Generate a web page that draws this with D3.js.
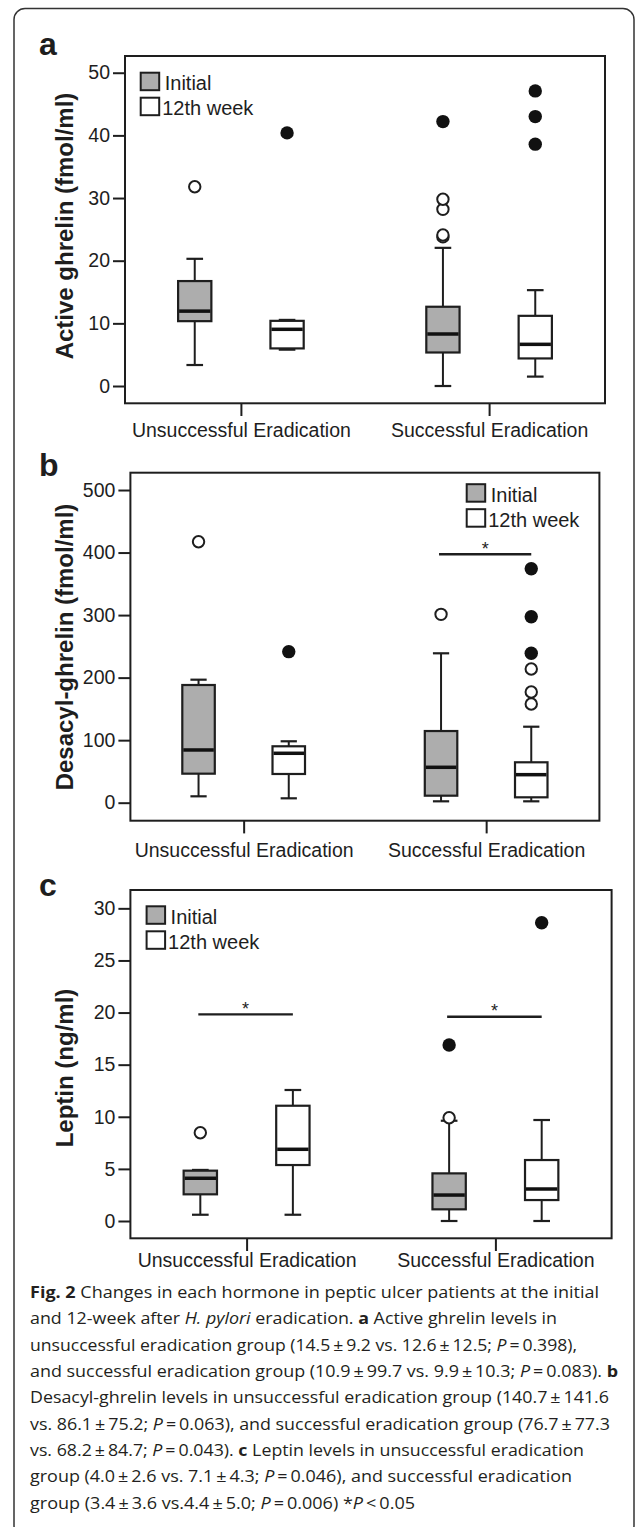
<!DOCTYPE html>
<html>
<head>
<meta charset="utf-8">
<script src="https://cdn.jsdelivr.net/npm/d3@7"></script>
<style>
  body { margin: 0; background: #fff; }
  svg { display: block; }
</style>
</head>
<body>
<svg id="fig" width="635" height="1527"></svg>
<script>
const groups = ['Unsuccessful Eradication', 'Successful Eradication'];
const series = ['Initial', '12th week'];

// box stats per group x series: [low whisker, q1, median, q3, high whisker]
const ghrelinBoxes = [[3.35, 10.35, 11.95, 16.75, 20.3], [5.8, 6.0, 9.05, 10.4, 10.55],
                      [0, 5.35, 8.3, 12.65, 22.05], [1.5, 4.4, 6.65, 11.2, 15.3]];
const ghrelinOpen = [[31.8], [], [23.8, 24.1, 28.2, 29.8], []];
const ghrelinFilled = [[], [40.4], [42.2], [38.6, 43.0, 47.1]];
const ghrelinTicks = [0, 10, 20, 30, 40, 50];

const desacylBoxes = [[10.2, 46.4, 84.3, 188.2, 196.7], [7, 45.9, 79, 90.2, 98.2],
                      [2.2, 11.2, 56.6, 114.6, 238.9], [2.2, 8.6, 44.8, 64.6, 121.5]];
const desacylOpen = [[417.3], [], [301.2], [157.8, 177, 213.8]];
const desacylFilled = [[], [241.5], [], [238.9, 297.4, 374.2]];
const desacylTicks = [0, 100, 200, 300, 400, 500];
const desacylSig = [{group: 'Successful Eradication', value: 397.3}];

const leptinBoxes = [[0.6, 2.56, 4.1, 4.83, 4.9], [0.6, 5.37, 6.88, 11.06, 12.57],
                     [0, 1.12, 2.49, 4.57, 9.62], [0, 2.01, 3.07, 5.85, 9.69]];
const leptinOpen = [[8.47], [], [9.91], []];
const leptinFilled = [[], [], [16.89], [28.62]];
const leptinTicks = [0, 5, 10, 15, 20, 25, 30];
const leptinSig = [{group: 'Unsuccessful Eradication', value: 19.83},
                   {group: 'Successful Eradication', value: 19.6}];

const INK = '#1e1e1e';
const GRAY = '#adadad';
const FONT = '"Liberation Sans", Arial, Helvetica, sans-serif';

const panels = [
	{label: 'a', title: 'Active ghrelin (fmol/ml)', boxes: ghrelinBoxes, open: ghrelinOpen, filled: ghrelinFilled,
	 ticks: ghrelinTicks, sig: [], yDomain: [-2.76, 52.67],
	 left: 125, right: 605, top: 56, bottom: 403.3, labelY: 54.5, titleY: 226, xLabelDy: 33.4,
	 legend: [140.7, 72.7]},
	{label: 'b', title: 'Desacyl-ghrelin (fmol/ml)', boxes: desacylBoxes, open: desacylOpen, filled: desacylFilled,
	 ticks: desacylTicks, sig: desacylSig, yDomain: [-28.8, 527.7],
	 left: 130.4, right: 599.4, top: 472.7, bottom: 820.7, labelY: 475.5, titleY: 647, xLabelDy: 36.4,
	 legend: [466.7, 484.2]},
	{label: 'c', title: 'Leptin (ng/ml)', boxes: leptinBoxes, open: leptinOpen, filled: leptinFilled,
	 ticks: leptinTicks, sig: leptinSig, yDomain: [-1.66, 31.76],
	 left: 130.4, right: 611.6, top: 890, bottom: 1238.3, labelY: 896, titleY: 1068, xLabelDy: 28.8,
	 legend: [146.6, 906.3]}
];

const svg = d3.select('#fig');

// rounded outer frame (runs off the bottom of the picture)
svg.append('rect')
	.attr('x', 14).attr('y', 8.5)
	.attr('width', 620).attr('height', 1528)
	.attr('rx', 11).attr('ry', 11)
	.attr('fill', 'none').attr('stroke', '#333').attr('stroke-width', 1.5);

function drawPanel(p) {
	const g = svg.append('g').attr('font-family', FONT).attr('fill', INK);

	const y = d3.scaleLinear().domain(p.yDomain).range([p.bottom, p.top]);
	const x = d3.scalePoint().domain(groups).range([p.left, p.right]).padding(0.467);
	const step = x.step();
	const xs = d3.scaleBand().domain(series).range([-step * 0.372, step * 0.372]);
	const boxW = step * 0.134;
	const cx = (i) => x(groups[Math.floor(i / 2)]) + xs(series[i % 2]) + xs.bandwidth() / 2;

	// panel letter
	g.append('text')
		.attr('x', 39).attr('y', p.labelY)
		.attr('font-size', 32).attr('font-weight', 'bold')
		.text(p.label);

	// y axis title
	g.append('text')
		.attr('transform', `translate(72.5, ${p.titleY}) rotate(-90)`)
		.attr('text-anchor', 'middle')
		.attr('font-size', 24).attr('font-weight', 'bold')
		.text(p.title);

	// y axis
	const yAxis = g.append('g')
		.attr('transform', `translate(${p.left},0)`)
		.call(d3.axisLeft(y).tickValues(p.ticks).tickSize(12).tickPadding(3));
	yAxis.select('.domain').remove();
	yAxis.selectAll('line').attr('stroke', INK).attr('stroke-width', 2);
	yAxis.selectAll('text').attr('font-size', 19.5).attr('font-family', FONT).attr('fill', INK);

	// x axis
	const xAxis = g.append('g')
		.attr('transform', `translate(0,${p.bottom})`)
		.call(d3.axisBottom(x).tickSize(12.7));
	xAxis.select('.domain').remove();
	xAxis.selectAll('line').attr('stroke', INK).attr('stroke-width', 2);
	xAxis.selectAll('text')
		.attr('y', p.xLabelDy).attr('dy', 0)
		.attr('font-size', 19.5).attr('font-family', FONT).attr('fill', INK);

	// plot frame
	g.append('rect')
		.attr('x', p.left).attr('y', p.top)
		.attr('width', p.right - p.left).attr('height', p.bottom - p.top)
		.attr('fill', 'none').attr('stroke', INK).attr('stroke-width', 2);

	// boxes
	const box = g.selectAll('.box').data(p.boxes).enter()
		.append('g').attr('class', 'box');

	box.append('line') // whisker stem
		.attr('x1', (d, i) => cx(i)).attr('x2', (d, i) => cx(i))
		.attr('y1', d => y(d[0])).attr('y2', d => y(d[4]))
		.attr('stroke', INK).attr('stroke-width', 2);
	box.selectAll('.cap').data((d, i) => [[d[0], i], [d[4], i]]).enter()
		.append('line').attr('class', 'cap')
		.attr('x1', d => cx(d[1]) - boxW / 4).attr('x2', d => cx(d[1]) + boxW / 4)
		.attr('y1', d => y(d[0])).attr('y2', d => y(d[0]))
		.attr('stroke', INK).attr('stroke-width', 2.2);
	box.append('rect')
		.attr('x', (d, i) => cx(i) - boxW / 2).attr('width', boxW)
		.attr('y', d => y(d[3])).attr('height', d => y(d[1]) - y(d[3]))
		.attr('fill', (d, i) => i % 2 === 0 ? GRAY : '#fff')
		.attr('stroke', INK).attr('stroke-width', 2.2);
	box.append('line') // median
		.attr('x1', (d, i) => cx(i) - boxW / 2 + 1).attr('x2', (d, i) => cx(i) + boxW / 2 - 1)
		.attr('y1', d => y(d[2])).attr('y2', d => y(d[2]))
		.attr('stroke', '#111').attr('stroke-width', 3.5);

	// outliers
	const openPts = p.open.flatMap((vals, i) => vals.map(v => [i, v]));
	const filledPts = p.filled.flatMap((vals, i) => vals.map(v => [i, v]));
	g.selectAll('.out-open').data(openPts).enter()
		.append('circle').attr('class', 'out-open')
		.attr('cx', d => cx(d[0])).attr('cy', d => y(d[1])).attr('r', 5.7)
		.attr('fill', '#fff').attr('stroke', INK).attr('stroke-width', 2);
	g.selectAll('.out-filled').data(filledPts).enter()
		.append('circle').attr('class', 'out-filled')
		.attr('cx', d => cx(d[0])).attr('cy', d => y(d[1])).attr('r', 6.7)
		.attr('fill', '#111');

	// significance bars
	const sig = g.selectAll('.sig').data(p.sig).enter().append('g').attr('class', 'sig');
	sig.append('line')
		.attr('x1', d => x(d.group) + xs(series[0]) + xs.bandwidth() / 2 - 2)
		.attr('x2', d => x(d.group) + xs(series[1]) + xs.bandwidth() / 2)
		.attr('y1', d => y(d.value)).attr('y2', d => y(d.value))
		.attr('stroke', INK).attr('stroke-width', 2.4);
	sig.append('text')
		.attr('x', d => x(d.group) - 1).attr('y', d => y(d.value) + 0.5)
		.attr('text-anchor', 'middle').attr('font-size', 18)
		.text('*');

	// legend
	const [lx, ly] = p.legend;
	const leg = g.selectAll('.leg').data(series).enter()
		.append('g').attr('class', 'leg')
		.attr('transform', (d, i) => `translate(${lx},${ly + i * 25})`);
	leg.append('rect')
		.attr('width', 18.5).attr('height', 17.5)
		.attr('fill', (d, i) => i === 0 ? GRAY : '#fff')
		.attr('stroke', INK).attr('stroke-width', 2);
	leg.append('text')
		.attr('x', (d, i) => i === 0 ? 24 : 21.5).attr('y', 17.5)
		.attr('font-size', 20)
		.text(d => d);
}

panels.forEach(drawPanel);

// figure caption
const T = '\u2009';
const captionLines = [
	[['Fig. 2', 'b'], [' Changes in each hormone in peptic ulcer patients at the initial']],
	[['and 12-week after '], ['H. pylori', 'i'], [' eradication. '], ['a', 'b'], [' Active ghrelin levels in']],
	[[`unsuccessful eradication group (14.5${T}±${T}9.2 vs. 12.6${T}±${T}12.5; `], ['P', 'i'], [`${T}=${T}0.398),`]],
	[[`and successful eradication group (10.9${T}±${T}99.7 vs. 9.9${T}±${T}10.3; `], ['P', 'i'], [`${T}=${T}0.083). `], ['b', 'b']],
	[[`Desacyl-ghrelin levels in unsuccessful eradication group (140.7${T}±${T}141.6`]],
	[[`vs. 86.1${T}±${T}75.2; `], ['P', 'i'], [`${T}=${T}0.063), and successful eradication group (76.7${T}±${T}77.3`]],
	[[`vs. 68.2${T}±${T}84.7; `], ['P', 'i'], [`${T}=${T}0.043). `], ['c', 'b'], [' Leptin levels in unsuccessful eradication']],
	[[`group (4.0${T}±${T}2.6 vs. 7.1${T}±${T}4.3; `], ['P', 'i'], [`${T}=${T}0.046), and successful eradication`]],
	[[`group (3.4${T}±${T}3.6 vs.4.4${T}±${T}5.0; `], ['P', 'i'], [`${T}=${T}0.006) *`], ['P', 'i'], [`${T}<${T}0.05`]]
];
const captionWidths = [569, 527, 547, 588, 579, 580, 554, 542, 385];

const cap = svg.append('g')
	.attr('font-family', '"Open Sans", "Noto Sans", sans-serif')
	.attr('font-size', 16.5)
	.attr('fill', '#231f20');
captionLines.forEach((segs, li) => {
	const t = cap.append('text')
		.attr('x', 30).attr('y', 1298 + li * 26.35)
		.attr('textLength', captionWidths[li])
		.attr('lengthAdjust', 'spacingAndGlyphs')
		.style('white-space', 'pre');
	segs.forEach(([s, st]) => {
		t.append('tspan')
			.attr('font-weight', st === 'b' ? 'bold' : null)
			.attr('font-style', st === 'i' ? 'italic' : null)
			.text(s);
	});
});
</script>
</body>
</html>
